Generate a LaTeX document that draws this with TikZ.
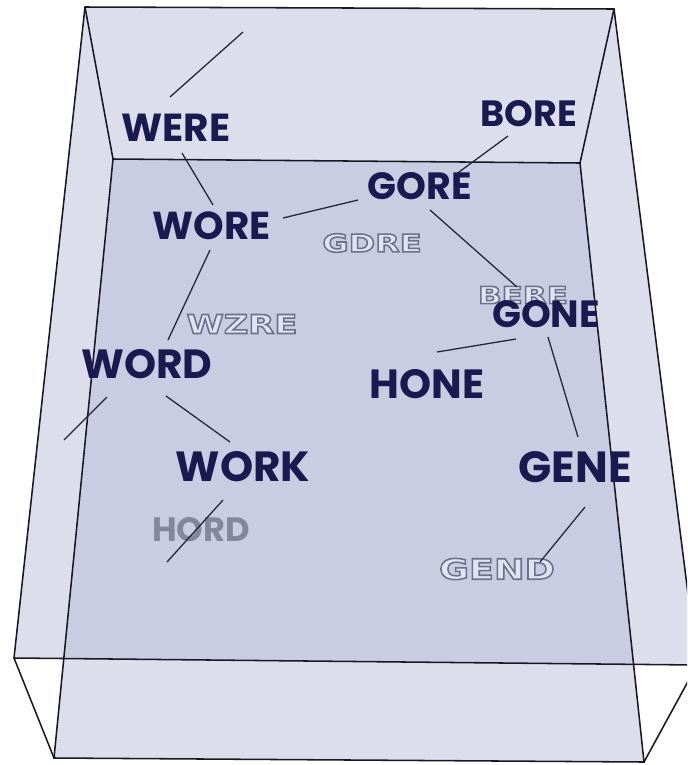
\documentclass[tikz,border=0pt]{standalone}
\usepackage{fontspec}
\usetikzlibrary{calc}

\newfontfamily\wordfont{Poppins}
\newfontfamily\ghostfont{DejaVu Sans}[FakeStretch=1.3]

\definecolor{wallblue}{RGB}{185,189,217}
\definecolor{navy}{RGB}{26,26,80}
\definecolor{ghostgray}{RGB}{108,112,136}
\definecolor{rimcol}{RGB}{24,24,36}
\definecolor{linkcol}{RGB}{36,36,56}

% hollow letters: gray stroke, light fill
\newcommand{\hollow}[1]{\special{pdf:literal direct 0.88 0.89 0.95 rg 2 Tr 1.1 w}#1\special{pdf:literal direct 0 Tr}}

\begin{document}
\begin{tikzpicture}[x=0.025cm,y=-0.025cm]
    % An open translucent box seen from above, with a chain of words inside.

    \tikzset{
      face/.style={fill=wallblue, fill opacity=0.5},
      rim/.style={draw=rimcol, line width=1.1pt},
      link/.style={draw=linkcol, line width=0.9pt},
      word/.style={font=\wordfont\bfseries\fontsize{#1}{#1}\selectfont, text=navy, inner sep=1pt},
      word/.default=27,
      ghost/.style={font=\ghostfont\bfseries\fontsize{#1}{#1}\selectfont, text=ghostgray, inner sep=1pt},
      ghost/.default=18
    }

    \useasboundingbox (0,0) rectangle (687,765);
    \clip (0,0) rectangle (687,765);

    % --- Box corners (top face A B F E, bottom face C D H G)
    \coordinate (A) at (85,7);
    \coordinate (B) at (614,9);
    \coordinate (F) at (697,665);
    \coordinate (E) at (14,658);
    \coordinate (C) at (113,159);
    \coordinate (D) at (580,163);
    \coordinate (H) at (644,762);
    \coordinate (G) at (54,758);

    % --- Faces and edges
    \fill[face] (A) -- (B) -- (F) -- (E) -- cycle;
    \fill[face] (C) -- (D) -- (H) -- (G) -- cycle;
    \draw[rim] (A) -- (B) -- (F) -- (E) -- cycle;
    \draw[rim] (C) -- (D) -- (H) -- (G) -- cycle;
    \draw[rim] (A) -- (C) (B) -- (D) (E) -- (G) (F) -- (H);

    % --- Faded words in the back
    \node[ghost=17.5] (gdre) at (372,243) {\hollow{GDRE}};
    \node[ghost=18.5] (wzre) at (242,324) {\hollow{WZRE}};
    \node[ghost=17] (bere) at (523,295) {\hollow{BERE}};
    \node[ghost=20] (gend) at (497,569) {\hollow{GEND}};
    \node[word=24, text=ghostgray, text opacity=0.75] (hord) at (201,530) {HORD};

    % --- Words
    \node[word=27.8] (were) at (176,128) {WERE};
    \node[word=26] (bore) at (529,114) {BORE};
    \node[word=27] (gore) at (420,186) {GORE};
    \node[word=27.7] (wore) at (212,226) {WORE};
    \node[word=27] (gone) at (546,314) {GONE};
    \node[word=29] (word) at (147,364) {WORD};
    \node[word=29] (hone) at (427,384) {HONE};
    \node[word=30] (work) at (243,467) {WORK};
    \node[word=31] (gene) at (575,467) {GENE};

    % --- Free ends
    \coordinate (were-up) at (243,32);
    \coordinate (word-out) at (64,440);

    % --- Links
    \draw[link] ($(were)+(-6,-31)$) -- (were-up);
    \draw[link] ($(were)+(6,25)$) -- ($(wore)+(1,-21)$);
    \draw[link] ($(wore)+(71,-8)$) -- ($(gore)+(-62,14)$);
    \draw[link] ($(bore)+(-21,22)$) -- ($(gore)+(35,-11)$);
    \draw[link] ($(gore)+(10,24)$) -- ($(bere)+(-6,-8)$);
    \draw[link] ($(wore)+(-2,24)$) -- ($(word)+(21,-24)$);
    \draw[link] ($(word)+(-40,33)$) -- (word-out);
    \draw[link] ($(word)+(19,32)$) -- ($(work)+(-13,-25)$);
    \draw[link] ($(work)+(-20,33)$) -- ($(hord)+(-34,32)$);
    \draw[link] ($(gone)+(-30,25)$) -- ($(hone)+(10,-32)$);
    \draw[link] ($(gone)+(2,23)$) -- ($(gene)+(3,-30)$);
    \draw[link] ($(gene)+(10,40)$) -- ($(gend)+(43,-7)$);
\end{tikzpicture}
\end{document}
